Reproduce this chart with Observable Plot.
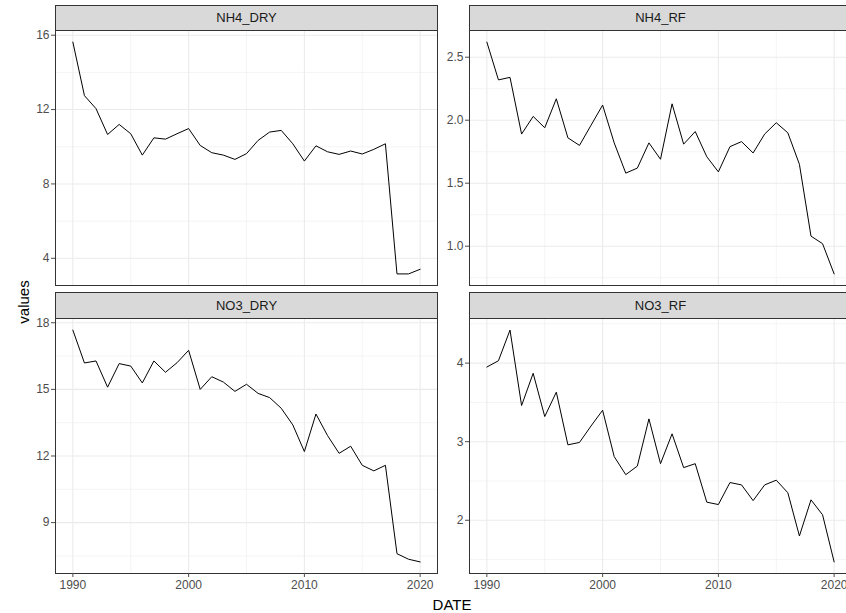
<!DOCTYPE html>
<html><head><meta charset="utf-8">
<script src="https://cdn.jsdelivr.net/npm/d3@7"></script>
<script src="https://cdn.jsdelivr.net/npm/@observablehq/plot@0.6"></script>
<style>
body{margin:0;background:#fff;font-family:"Liberation Sans",Arial,sans-serif;}
#wrap{position:relative;width:846px;height:613px;overflow:hidden;background:#fff;}
.strip{position:absolute;box-sizing:border-box;background:#d9d9d9;border:1px solid #333;font-size:13px;color:#1a1a1a;text-align:center;}
.title{position:absolute;font-size:15px;color:#000;white-space:nowrap;}
</style></head><body><div id="wrap"></div><script>
const years = [1990,1991,1992,1993,1994,1995,1996,1997,1998,1999,2000,2001,2002,2003,2004,2005,2006,2007,2008,2009,2010,2011,2012,2013,2014,2015,2016,2017,2018,2019,2020];
const nh4Dry = [15.63,12.75,12.05,10.66,11.2,10.7,9.55,10.48,10.41,10.7,10.98,10.07,9.68,9.55,9.32,9.63,10.34,10.79,10.88,10.16,9.23,10.05,9.73,9.59,9.77,9.61,9.86,10.16,3.16,3.16,3.41];
const nh4Rf = [2.62,2.32,2.34,1.89,2.03,1.94,2.17,1.86,1.80,1.96,2.12,1.82,1.58,1.62,1.82,1.69,2.13,1.81,1.91,1.71,1.59,1.79,1.83,1.74,1.89,1.98,1.90,1.65,1.08,1.02,0.78];
const no3Dry = [17.67,16.19,16.28,15.1,16.16,16.05,15.29,16.28,15.77,16.2,16.76,15.0,15.57,15.33,14.91,15.23,14.82,14.63,14.15,13.4,12.2,13.89,12.92,12.12,12.44,11.58,11.33,11.58,7.6,7.35,7.23];
const no3Rf = [3.95,4.03,4.42,3.46,3.87,3.32,3.63,2.96,2.99,3.2,3.4,2.81,2.58,2.69,3.29,2.72,3.1,2.67,2.72,2.23,2.2,2.48,2.45,2.25,2.45,2.51,2.35,1.8,2.26,2.07,1.47];
const panelNames = ["NH4_DRY","NH4_RF","NO3_DRY","NO3_RF"];
const xTicks = [1990,2000,2010,2020];
const xMinor = [1995,2005,2015];
const yTicksNh4Dry = [4,8,12,16], yMinorNh4Dry = [2,6,10,14];
const yTicksNh4Rf = [1.0,1.5,2.0,2.5], yMinorNh4Rf = [0.75,1.25,1.75,2.25];
const yTicksNo3Dry = [9,12,15,18], yMinorNo3Dry = [7.5,10.5,13.5,16.5];
const yTicksNo3Rf = [2,3,4], yMinorNo3Rf = [1.5,2.5,3.5,4.5];
const xLabel = "DATE", yLabel = "values";

const wrap = document.getElementById("wrap");
const panelW = 382, panelH = 255;
const colX = [55, 469];
const rowY = [30, 318];
const stripTop = [5, 292];

function makePanel(name, values, yTicks, yMinor, fmt, col, row) {
  const data = years.map((d, i) => ({year: d, value: values[i]}));
  const [lo, hi] = d3.extent(values);
  const pad = (hi - lo) * 0.05;
  const yDomain = [lo - pad, hi + pad];
  const inside = v => v >= yDomain[0] && v <= yDomain[1];
  const bottom = row === 1;
  const marks = [
    Plot.ruleY(yMinor.filter(inside), {stroke: "#ebebeb", strokeWidth: 0.55}),
    Plot.ruleX(xMinor, {stroke: "#ebebeb", strokeWidth: 0.55}),
    Plot.ruleY(yTicks.filter(inside), {stroke: "#ebebeb", strokeWidth: 1.1}),
    Plot.ruleX(xTicks, {stroke: "#ebebeb", strokeWidth: 1.1}),
    Plot.line(data, {x: "year", y: "value", stroke: "#000", strokeWidth: 1}),
    Plot.frame({stroke: "#333", strokeWidth: 1}),
    Plot.axisY(yTicks, {label: null, tickSize: 4, tickPadding: 2, tickFormat: fmt, color: "#4d4d4d", fontSize: 12})
  ];
  if (bottom) marks.push(Plot.axisX(xTicks, {label: null, tickSize: 4, tickPadding: 3, tickFormat: d => String(d), color: "#4d4d4d", fontSize: 12}));
  const svg = Plot.plot({
    width: 55 + panelW + 2,
    height: 2 + panelH + (bottom ? 34 : 2),
    marginLeft: 55, marginRight: 2, marginTop: 2, marginBottom: bottom ? 34 : 2,
    x: {domain: [1988.5, 2021.5], axis: null, label: null},
    y: {domain: yDomain, axis: null, label: null},
    style: {fontFamily: "Liberation Sans, Arial, sans-serif", fontSize: "12px", background: "transparent", overflow: "visible"},
    marks
  });
  svg.style.position = "absolute";
  svg.style.left = (colX[col] - 55) + "px";
  svg.style.top = (rowY[row] - 2) + "px";
  wrap.appendChild(svg);
  const strip = document.createElement("div");
  strip.className = "strip";
  strip.textContent = name;
  strip.style.left = colX[col] + "px";
  strip.style.top = stripTop[row] + "px";
  strip.style.width = (panelW + 1) + "px";
  const h = rowY[row] - stripTop[row] + 1;
  strip.style.height = h + "px";
  strip.style.lineHeight = (h - 2) + "px";
  wrap.appendChild(strip);
}

makePanel(panelNames[0], nh4Dry, yTicksNh4Dry, yMinorNh4Dry, d => String(d), 0, 0);
makePanel(panelNames[1], nh4Rf, yTicksNh4Rf, yMinorNh4Rf, d3.format(".1f"), 1, 0);
makePanel(panelNames[2], no3Dry, yTicksNo3Dry, yMinorNo3Dry, d => String(d), 0, 1);
makePanel(panelNames[3], no3Rf, yTicksNo3Rf, yMinorNo3Rf, d => String(d), 1, 1);

const yl = document.createElement("div");
yl.className = "title";
yl.textContent = yLabel;
yl.style.left = "23px"; yl.style.top = "302px";
yl.style.transform = "translate(-50%,-50%) rotate(-90deg)";
wrap.appendChild(yl);
const xl = document.createElement("div");
xl.className = "title";
xl.textContent = xLabel;
xl.style.left = "452px"; xl.style.top = "604px";
xl.style.transform = "translate(-50%,-50%)";
wrap.appendChild(xl);
</script></body></html>
